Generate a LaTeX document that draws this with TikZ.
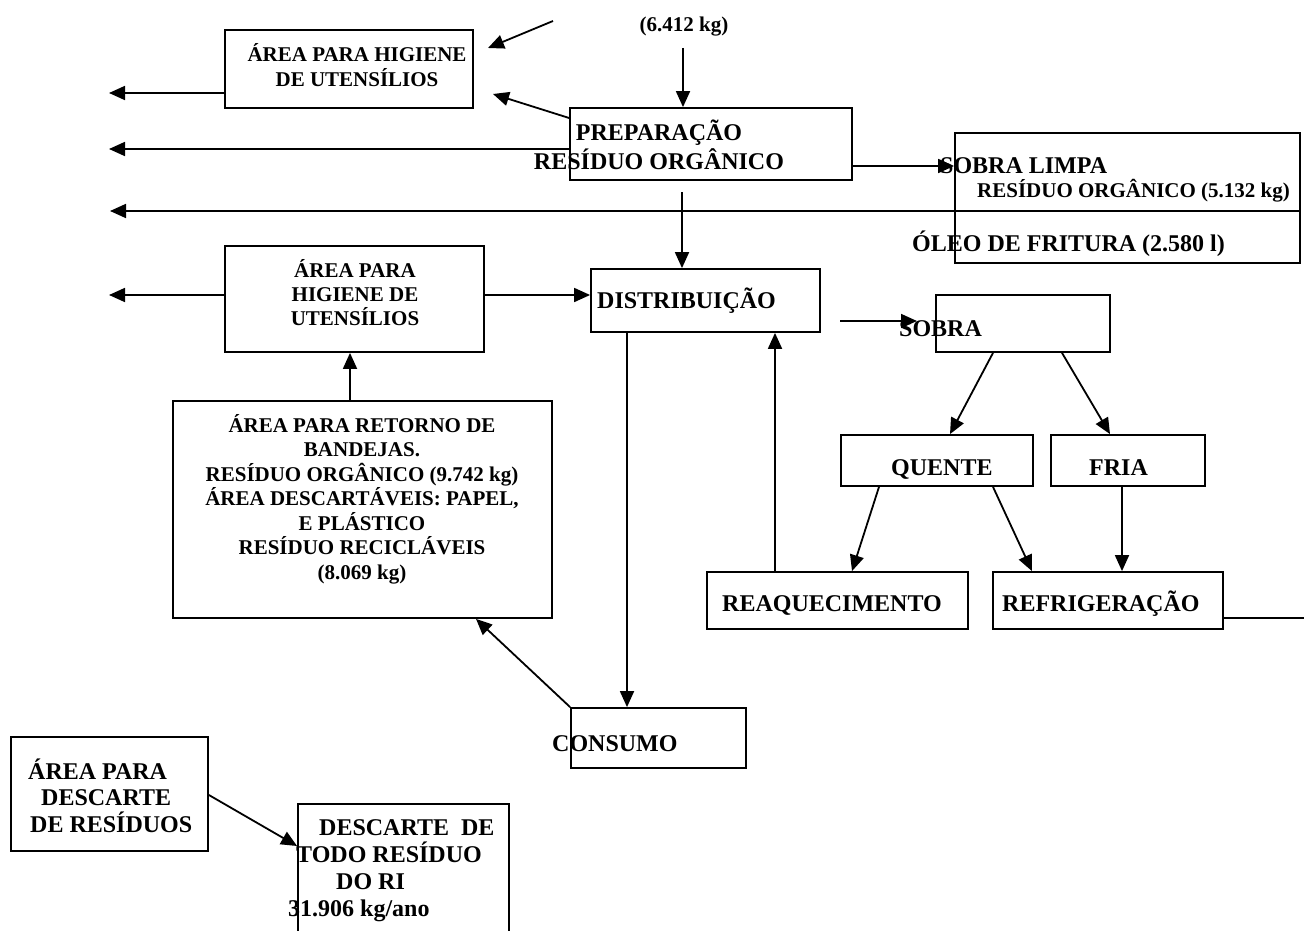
\documentclass[tikz,border=0pt]{standalone}
\usepackage{fontspec}
\setmainfont{Liberation Serif}
\usetikzlibrary{arrows.meta,fit}

\begin{document}
\begin{tikzpicture}[x=1pt,y=-1pt,
    box/.style={draw, line width=1.8pt, inner sep=0pt},
    arr/.style={line width=1.8pt, -{Triangle[length=16pt,width=14pt]}},
    conn/.style={line width=1.8pt},
    lbl/.style={inner sep=0pt, font=\fontsize{24}{#1}\selectfont\bfseries},
    lbl/.default=28,
    lblsmall/.style={inner sep=0pt, font=\fontsize{21}{#1}\selectfont\bfseries},
    lblsmall/.default=24.5]

    % page frame (pixels of the original sheet)
    \useasboundingbox (0,0) rectangle (1304,931);

    % --- Boxes ---
    \node[box, fit={(225,30) (473,108)}] (hig1) {};
    \node[box, fit={(570,108) (852,180)}] (prep) {};
    \node[box, fit={(955,133) (1300,263)}] (limpa) {};
    \node[box, fit={(225,246) (484,352)}] (hig2) {};
    \node[box, fit={(591,269) (820,332)}] (dist) {};
    \node[box, fit={(936,295) (1110,352)}] (sobra) {};
    \node[box, fit={(841,435) (1033,486)}] (quente) {};
    \node[box, fit={(1051,435) (1205,486)}] (fria) {};
    \node[box, fit={(707,572) (968,629)}] (reaq) {};
    \node[box, fit={(993,572) (1223,629)}] (refrig) {};
    \node[box, fit={(173,401) (552,618)}] (retorno) {};
    \node[box, fit={(571,708) (746,768)}] (consumo) {};
    \node[box, fit={(11,737) (208,851)}] (areadesc) {};
    \node[box, fit={(298,804) (509,950)}] (todo) {}; % runs off the sheet

    % --- Texts (multi-line: base = last line) ---
    \node[lblsmall=25, align=center, anchor=base] (hig1txt) at (357,87) {ÁREA PARA HIGIENE\\DE UTENSÍLIOS};
    \node[lblsmall, anchor=base] (kg) at (684,32) {(6.412 kg)};
    \node[lbl=29, align=center, anchor=base] (preptxt) at (659,170) {PREPARAÇÃO\\RESÍDUO ORGÂNICO};
    \node[lbl, anchor=base west] (limpatxt) at (940,173) {SOBRA LIMPA};
    \node[lblsmall, anchor=base west] (limparesid) at (977,197) {RESÍDUO ORGÂNICO (5.132 kg)};
    \node[lbl, anchor=base west] (oleo) at (912,251) {ÓLEO DE FRITURA (2.580 l)};
    \node[lblsmall=24, align=center, anchor=base] (hig2txt) at (355,325) {ÁREA PARA\\HIGIENE DE\\UTENSÍLIOS};
    \node[lbl, anchor=base west] (disttxt) at (597,308) {DISTRIBUIÇÃO};
    \node[lblsmall, align=center, anchor=base] (retornotxt) at (362,579)
        {ÁREA PARA RETORNO DE\\BANDEJAS.\\RESÍDUO ORGÂNICO (9.742 kg)\\ÁREA DESCARTÁVEIS: PAPEL,\\E PLÁSTICO\\RESÍDUO RECICLÁVEIS\\(8.069 kg)};
    \node[lbl, anchor=base west] (sobratxt) at (899,336) {SOBRA};
    \node[lbl, anchor=base west] (quentetxt) at (891,475) {QUENTE};
    \node[lbl, anchor=base west] (friatxt) at (1089,475) {FRIA};
    \node[lbl, anchor=base west] (reaqtxt) at (722,611) {REAQUECIMENTO};
    \node[lbl, anchor=base west] (refrigtxt) at (1002,611) {REFRIGERAÇÃO};
    \node[lbl, anchor=base west] (consumotxt) at (552,751) {CONSUMO};
    \node[lbl=26.5, align=left, anchor=base west] (areadesctxt) at (28,832)
        {ÁREA PARA\\\hspace*{13pt}DESCARTE\\\hspace*{2pt}DE RESÍDUOS};
    \node[lbl=27, align=left, anchor=base west] (todotxt) at (288,916)
        {\hspace*{31pt}DESCARTE~~DE\\\hspace*{8pt}TODO RESÍDUO\\\hspace*{48pt}DO RI\\31.906 kg/ano};

    % --- Arrows out to the left margin ---
    \foreach \src/\yy in {hig1/93, prep/149, hig2/295} {
        \coordinate (left-\src) at (109,\yy);
        \draw[arr] (\src.west |- left-\src) -- (left-\src);
    }
    \coordinate (left-limpa) at (110,211);
    \draw[arr] (limpa.east |- left-limpa) -- (left-limpa);

    % --- Top part ---
    \coordinate (inflow) at (553,21);
    \coordinate (inflow-tip) at (488,48);
    \draw[arr] (inflow) -- (inflow-tip);
    \coordinate (prep-tip) at (493,94);
    \draw[arr] (prep.west |- 0,118) -- (prep-tip);
    \coordinate (kg-drop) at (683,48);
    \draw[arr] (kg-drop) -- (kg-drop |- prep.north);
    \draw[arr] (prep.east |- 0,166) -- (limpa.west |- 0,166);
    \coordinate (prep-drop) at (682,192);
    \draw[arr] (prep-drop) -- (prep-drop |- dist.north);

    % --- Middle part ---
    \draw[arr] (hig2.east |- 0,295) -- (dist.west |- 0,295);
    \coordinate (dist-out) at (840,321);
    \coordinate (sobra-in) at (917,321);
    \draw[arr] (dist-out) -- (sobra-in);
    \draw[arr] (993,0 |- sobra.south) -- (950,0 |- quente.north);
    \draw[arr] (1062,0 |- sobra.south) -- (1110,0 |- fria.north);
    \draw[arr] (879,0 |- quente.south) -- (852,0 |- reaq.north);
    \draw[arr] (993,0 |- quente.south) -- (1032,0 |- refrig.north);
    \draw[arr] (1122,0 |- fria.south) -- (1122,0 |- refrig.north);
    \draw[arr] (775,0 |- reaq.north) -- (775,0 |- dist.south);
    \coordinate (right-out) at (1304,618);
    \draw[conn] (refrig.east |- right-out) -- (right-out);

    % --- Lower part ---
    \draw[arr] (627,0 |- dist.south) -- (627,0 |- consumo.north);
    \draw[arr] (consumo.north west) -- (476,0 |- retorno.south);
    \draw[arr] (350,0 |- retorno.north) -- (350,0 |- hig2.south);
    \draw[arr] (areadesc.east |- 0,795) -- (todo.west |- 0,846);

\end{tikzpicture}
\end{document}
